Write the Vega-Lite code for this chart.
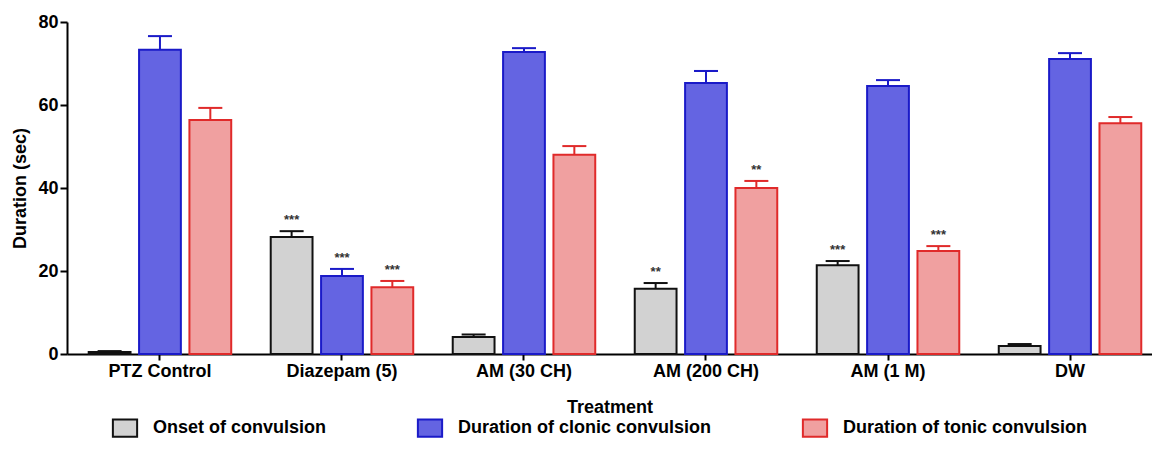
{
  "$schema": "https://vega.github.io/schema/vega-lite/v6.json",
  "width": 1085,
  "height": 332,
  "autosize": {"type": "none"},
  "padding": {"left": 67, "top": 22, "right": 0, "bottom": 110},
  "config": {"view": {"stroke": null}, "font": "Liberation Sans"},
  "data": {
    "values": [
      {"Treatment": "PTZ Control", "Measure": "Onset of convulsion", "mean": 0.5, "hi": 0.7, "sig": ""},
      {"Treatment": "PTZ Control", "Measure": "Duration of clonic convulsion", "mean": 73.3, "hi": 76.6, "sig": ""},
      {"Treatment": "PTZ Control", "Measure": "Duration of tonic convulsion", "mean": 56.4, "hi": 59.3, "sig": ""},
      {"Treatment": "Diazepam (5)", "Measure": "Onset of convulsion", "mean": 28.2, "hi": 29.6, "sig": "***"},
      {"Treatment": "Diazepam (5)", "Measure": "Duration of clonic convulsion", "mean": 18.8, "hi": 20.5, "sig": "***"},
      {"Treatment": "Diazepam (5)", "Measure": "Duration of tonic convulsion", "mean": 16.1, "hi": 17.6, "sig": "***"},
      {"Treatment": "AM (30 CH)", "Measure": "Onset of convulsion", "mean": 4.1, "hi": 4.7, "sig": ""},
      {"Treatment": "AM (30 CH)", "Measure": "Duration of clonic convulsion", "mean": 72.8, "hi": 73.7, "sig": ""},
      {"Treatment": "AM (30 CH)", "Measure": "Duration of tonic convulsion", "mean": 48.0, "hi": 50.1, "sig": ""},
      {"Treatment": "AM (200 CH)", "Measure": "Onset of convulsion", "mean": 15.7, "hi": 17.1, "sig": "**"},
      {"Treatment": "AM (200 CH)", "Measure": "Duration of clonic convulsion", "mean": 65.3, "hi": 68.2, "sig": ""},
      {"Treatment": "AM (200 CH)", "Measure": "Duration of tonic convulsion", "mean": 40.0, "hi": 41.7, "sig": "**"},
      {"Treatment": "AM (1 M)", "Measure": "Onset of convulsion", "mean": 21.4, "hi": 22.4, "sig": "***"},
      {"Treatment": "AM (1 M)", "Measure": "Duration of clonic convulsion", "mean": 64.6, "hi": 66.0, "sig": ""},
      {"Treatment": "AM (1 M)", "Measure": "Duration of tonic convulsion", "mean": 24.8, "hi": 26.0, "sig": "***"},
      {"Treatment": "DW", "Measure": "Onset of convulsion", "mean": 1.9, "hi": 2.4, "sig": ""},
      {"Treatment": "DW", "Measure": "Duration of clonic convulsion", "mean": 71.1, "hi": 72.5, "sig": ""},
      {"Treatment": "DW", "Measure": "Duration of tonic convulsion", "mean": 55.6, "hi": 57.1, "sig": ""}
    ]
  },
  "encoding": {
    "x": {
      "field": "Treatment",
      "type": "nominal",
      "sort": ["PTZ Control", "Diazepam (5)", "AM (30 CH)", "AM (200 CH)", "AM (1 M)", "DW"],
      "scale": {"paddingInner": 0.17, "paddingOuter": 0.0656, "align": 0.73},
      "axis": {
        "title": "Treatment",
        "titleFontSize": 18,
        "titleFontWeight": "bold",
        "titleColor": "black",
        "titlePadding": 18,
        "labelAngle": 0,
        "labelFontSize": 18,
        "labelFontWeight": "bold",
        "labelColor": "black",
        "labelPadding": 2,
        "tickSize": 6,
        "tickWidth": 2,
        "tickColor": "black",
        "domainWidth": 2,
        "domainColor": "black"
      }
    },
    "xOffset": {
      "field": "Measure",
      "type": "nominal",
      "sort": ["Onset of convulsion", "Duration of clonic convulsion", "Duration of tonic convulsion"],
      "scale": {"paddingInner": 0.17, "paddingOuter": 0.085}
    }
  },
  "layer": [
    {
      "mark": {"type": "bar", "strokeWidth": 2},
      "encoding": {
        "y": {
          "field": "mean",
          "type": "quantitative",
          "scale": {"domain": [0, 80], "nice": false},
          "axis": {
            "title": "Duration (sec)",
            "titleFontSize": 18,
            "titleFontWeight": "bold",
            "titleColor": "black",
            "titlePadding": 8,
            "values": [0, 20, 40, 60, 80],
            "grid": false,
            "labelFontSize": 18,
            "labelFontWeight": "bold",
            "labelColor": "black",
            "labelPadding": 2,
            "tickSize": 7,
            "tickWidth": 2,
            "tickColor": "black",
            "domainWidth": 2,
            "domainColor": "black"
          }
        },
        "fill": {
          "field": "Measure",
          "type": "nominal",
          "sort": ["Onset of convulsion", "Duration of clonic convulsion", "Duration of tonic convulsion"],
          "scale": {
            "domain": ["Onset of convulsion", "Duration of clonic convulsion", "Duration of tonic convulsion"],
            "range": ["#d2d2d2", "#6464e2", "#f0a0a0"]
          },
          "legend": {
            "orient": "none",
            "legendX": 48,
            "legendY": 396,
            "direction": "horizontal",
            "title": null,
            "symbolType": "M-1.4,-1H1.4V1H-1.4Z",
            "symbolSize": 300,
            "symbolStrokeWidth": 2,
            "labelFontSize": 18,
            "labelFontWeight": "bold",
            "labelColor": "black",
            "labelLimit": 0,
            "columnPadding": 86,
            "labelOffset": 18
          }
        },
        "stroke": {
          "field": "Measure",
          "type": "nominal",
          "sort": ["Onset of convulsion", "Duration of clonic convulsion", "Duration of tonic convulsion"],
          "scale": {
            "domain": ["Onset of convulsion", "Duration of clonic convulsion", "Duration of tonic convulsion"],
            "range": ["#111111", "#1a1ac8", "#e02a2a"]
          },
          "legend": {
            "orient": "none",
            "legendX": 48,
            "legendY": 396,
            "direction": "horizontal",
            "title": null,
            "symbolType": "M-1.4,-1H1.4V1H-1.4Z",
            "symbolSize": 300,
            "symbolStrokeWidth": 2,
            "labelFontSize": 18,
            "labelFontWeight": "bold",
            "labelColor": "black",
            "labelLimit": 0,
            "columnPadding": 86,
            "labelOffset": 18
          }
        }
      }
    },
    {
      "mark": {"type": "rule", "strokeWidth": 2},
      "encoding": {
        "y": {"field": "mean", "type": "quantitative"},
        "y2": {"field": "hi"},
        "stroke": {"field": "Measure", "type": "nominal", "legend": null}
      }
    },
    {
      "mark": {"type": "tick", "thickness": 0.01, "orient": "horizontal", "strokeWidth": 2, "fillOpacity": 0},
      "encoding": {
        "y": {"field": "hi", "type": "quantitative"},
        "size": {"value": 22},
        "stroke": {"field": "Measure", "type": "nominal", "legend": null}
      }
    },
    {
      "mark": {"type": "text", "baseline": "bottom", "dy": -4, "fontSize": 13, "fontWeight": "bold", "color": "#333333"},
      "encoding": {
        "y": {"field": "hi", "type": "quantitative"},
        "text": {"field": "sig"}
      }
    }
  ]
}
